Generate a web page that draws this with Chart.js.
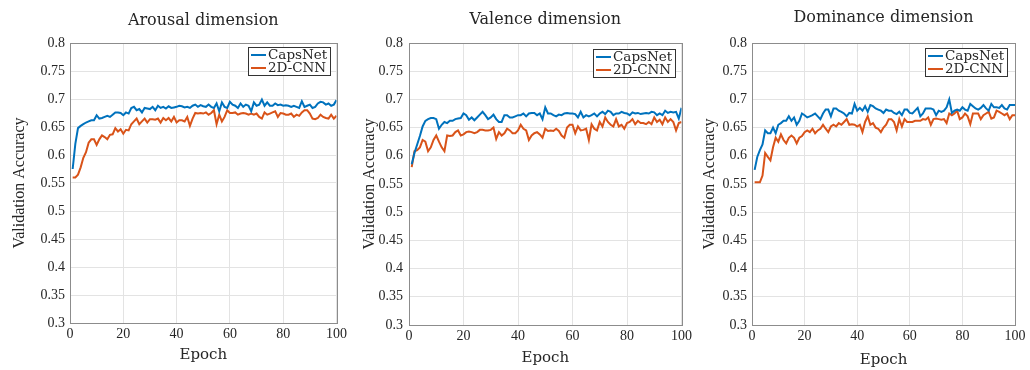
<!DOCTYPE html>
<html lang="en">
<head>
<meta charset="UTF-8">
<title>Validation accuracy: CapsNet vs 2D-CNN</title>
<script src="https://cdn.jsdelivr.net/npm/chart.js@4"></script>
<style>
  html, body { margin: 0; padding: 0; background: #fff; }
  .wrap { position: relative; width: 1030px; height: 370px; overflow: hidden; }
  .panel { position: absolute; top: 0; height: 370px; }
</style>
</head>
<body>
<div class="wrap">
  <div class="panel" style="left:0;width:350px"><canvas id="arousal"></canvas></div>
  <div class="panel" style="left:355px;width:340px"><canvas id="valence"></canvas></div>
  <div class="panel" style="left:700px;width:330px"><canvas id="dominance"></canvas></div>
</div>
<script>
// epochs 1..100 on the x axis
const epochs = Array.from({ length: 100 }, (_, i) => i + 1);
const xTicks = [0, 20, 40, 60, 80, 100];
const yTicks = [0.3, 0.35, 0.4, 0.45, 0.5, 0.55, 0.6, 0.65, 0.7, 0.75, 0.8];
const yTickLabels = ['0.3', '0.35', '0.4', '0.45', '0.5', '0.55', '0.6', '0.65', '0.7', '0.75', '0.8'];
const seriesNames = ['CapsNet', '2D-CNN'];

const arousalCaps = [
  0.575, 0.620, 0.648, 0.652, 0.655, 0.658, 0.660, 0.662, 0.662, 0.671,
  0.665, 0.666, 0.668, 0.670, 0.668, 0.672, 0.676, 0.676, 0.675, 0.671,
  0.676, 0.674, 0.684, 0.686, 0.680, 0.682, 0.676, 0.684, 0.683, 0.682,
  0.686, 0.680, 0.688, 0.684, 0.686, 0.683, 0.687, 0.684, 0.685, 0.686,
  0.688, 0.687, 0.685, 0.686, 0.684, 0.688, 0.690, 0.686, 0.689, 0.687,
  0.686, 0.690, 0.686, 0.684, 0.692, 0.678, 0.694, 0.686, 0.684, 0.695,
  0.690, 0.688, 0.684, 0.692, 0.686, 0.690, 0.688, 0.678, 0.694, 0.688,
  0.690, 0.699, 0.688, 0.694, 0.688, 0.688, 0.692, 0.689, 0.690, 0.688,
  0.689, 0.688, 0.686, 0.688, 0.686, 0.684, 0.696, 0.686, 0.688, 0.690,
  0.684, 0.686, 0.692, 0.695, 0.694, 0.690, 0.692, 0.688, 0.690, 0.698
];
const arousalCnn = [
  0.560, 0.560, 0.565, 0.578, 0.595, 0.605, 0.622, 0.628, 0.628, 0.618,
  0.628, 0.635, 0.632, 0.628, 0.636, 0.637, 0.648, 0.642, 0.646, 0.638,
  0.645, 0.644, 0.655, 0.660, 0.665, 0.655, 0.660, 0.665, 0.658, 0.664,
  0.664, 0.663, 0.665, 0.658, 0.666, 0.662, 0.666, 0.660, 0.668, 0.658,
  0.662, 0.662, 0.660, 0.668, 0.652, 0.665, 0.675, 0.674, 0.675, 0.674,
  0.676, 0.672, 0.675, 0.680, 0.655, 0.672, 0.660, 0.668, 0.680, 0.675,
  0.675, 0.676, 0.672, 0.674, 0.675, 0.674, 0.672, 0.674, 0.672, 0.674,
  0.668, 0.665, 0.676, 0.672, 0.674, 0.676, 0.678, 0.668, 0.675, 0.674,
  0.672, 0.672, 0.674, 0.668, 0.672, 0.670, 0.676, 0.680, 0.680, 0.674,
  0.665, 0.664, 0.666, 0.672, 0.668, 0.666, 0.665, 0.672, 0.665, 0.670
];
const valenceCaps = [
  0.585, 0.605, 0.620, 0.635, 0.652, 0.662, 0.665, 0.667, 0.667, 0.665,
  0.648, 0.655, 0.660, 0.658, 0.662, 0.662, 0.665, 0.666, 0.667, 0.675,
  0.672, 0.664, 0.668, 0.663, 0.668, 0.673, 0.678, 0.672, 0.665, 0.668,
  0.673, 0.665, 0.660, 0.660, 0.672, 0.672, 0.668, 0.668, 0.670, 0.672,
  0.672, 0.675, 0.670, 0.675, 0.676, 0.676, 0.672, 0.675, 0.665, 0.686,
  0.675, 0.675, 0.672, 0.670, 0.673, 0.672, 0.675, 0.676, 0.675, 0.675,
  0.674, 0.668, 0.678, 0.668, 0.672, 0.670, 0.672, 0.675, 0.670, 0.675,
  0.678, 0.674, 0.680, 0.678, 0.672, 0.675, 0.675, 0.678, 0.676, 0.675,
  0.672, 0.677, 0.675, 0.676, 0.674, 0.675, 0.676, 0.675, 0.678, 0.677,
  0.672, 0.675, 0.672, 0.680, 0.676, 0.678, 0.677, 0.678, 0.666, 0.685
];
const valenceCnn = [
  0.580, 0.608, 0.610, 0.615, 0.628, 0.625, 0.608, 0.615, 0.628, 0.636,
  0.625, 0.615, 0.608, 0.636, 0.635, 0.636, 0.642, 0.645, 0.636, 0.638,
  0.642, 0.643, 0.642, 0.640, 0.642, 0.646, 0.646, 0.645, 0.645, 0.646,
  0.650, 0.630, 0.642, 0.636, 0.640, 0.648, 0.645, 0.640, 0.640, 0.645,
  0.655, 0.648, 0.645, 0.628, 0.636, 0.640, 0.642, 0.638, 0.632, 0.648,
  0.644, 0.645, 0.644, 0.648, 0.644, 0.636, 0.632, 0.650, 0.655, 0.655,
  0.640, 0.652, 0.645, 0.646, 0.648, 0.628, 0.656, 0.648, 0.645, 0.660,
  0.652, 0.668, 0.660, 0.655, 0.652, 0.665, 0.652, 0.655, 0.648, 0.658,
  0.660, 0.665, 0.656, 0.662, 0.658, 0.658, 0.656, 0.660, 0.656, 0.668,
  0.660, 0.664, 0.656, 0.668, 0.660, 0.665, 0.660, 0.645, 0.658, 0.660
];
const dominanceCaps = [
  0.575, 0.598, 0.610, 0.620, 0.645, 0.640, 0.640, 0.650, 0.640, 0.655,
  0.658, 0.662, 0.662, 0.670, 0.662, 0.668, 0.655, 0.662, 0.675, 0.672,
  0.668, 0.670, 0.672, 0.675, 0.670, 0.665, 0.675, 0.682, 0.682, 0.670,
  0.684, 0.684, 0.680, 0.678, 0.675, 0.670, 0.676, 0.675, 0.692, 0.680,
  0.685, 0.680, 0.688, 0.678, 0.690, 0.688, 0.684, 0.682, 0.680, 0.676,
  0.682, 0.680, 0.680, 0.676, 0.674, 0.678, 0.672, 0.682, 0.682, 0.676,
  0.675, 0.680, 0.685, 0.670, 0.675, 0.684, 0.684, 0.684, 0.682, 0.672,
  0.680, 0.678, 0.680, 0.686, 0.700, 0.676, 0.680, 0.682, 0.680, 0.686,
  0.682, 0.680, 0.692, 0.688, 0.684, 0.682, 0.685, 0.690, 0.684, 0.680,
  0.692, 0.686, 0.686, 0.685, 0.690, 0.684, 0.682, 0.690, 0.690, 0.690
];
const dominanceCnn = [
  0.553, 0.553, 0.553, 0.565, 0.605, 0.598, 0.592, 0.615, 0.632, 0.625,
  0.638, 0.628, 0.622, 0.632, 0.636, 0.632, 0.622, 0.632, 0.635, 0.642,
  0.645, 0.642, 0.648, 0.640, 0.645, 0.648, 0.655, 0.648, 0.642, 0.652,
  0.655, 0.652, 0.658, 0.655, 0.660, 0.665, 0.655, 0.656, 0.655, 0.652,
  0.655, 0.642, 0.660, 0.670, 0.655, 0.658, 0.650, 0.648, 0.642, 0.650,
  0.655, 0.665, 0.665, 0.660, 0.645, 0.665, 0.652, 0.665, 0.660, 0.660,
  0.660, 0.662, 0.662, 0.662, 0.665, 0.664, 0.668, 0.655, 0.665, 0.666,
  0.665, 0.664, 0.665, 0.658, 0.675, 0.672, 0.675, 0.680, 0.665, 0.668,
  0.675, 0.670, 0.656, 0.675, 0.675, 0.675, 0.665, 0.672, 0.675, 0.678,
  0.666, 0.668, 0.680, 0.678, 0.675, 0.672, 0.675, 0.665, 0.672, 0.672
];

const BLUE = '#0072BD';
const ORANGE = '#D95319';
const TEXT = '#262626';

// frame, panel title and the boxed legend in the top-right corner
const matlabLook = {
  id: 'matlabLook',
  afterDatasetsDraw (chart, args, opts) {
    const { ctx, chartArea: a } = chart;
    ctx.save();
    ctx.strokeStyle = '#8c8c8c';
    ctx.lineWidth = 1;
    ctx.strokeRect(Math.round(a.left) + 0.5, Math.round(a.top) + 0.5,
      Math.round(a.right - a.left), Math.round(a.bottom - a.top));

    ctx.fillStyle = TEXT;
    ctx.font = opts.titleFont;
    ctx.textAlign = 'center';
    ctx.textBaseline = 'middle';
    ctx.fillText(opts.title, (a.left + a.right) / 2, opts.titleY);

    ctx.font = opts.legendFont;
    ctx.textAlign = 'left';
    const sets = chart.data.datasets;
    const textW = Math.max(...sets.map(d => ctx.measureText(d.label).width));
    const rowH = 13;
    const lineLen = 15;
    const w = Math.round(3 + lineLen + 2 + textW + 3);
    const h = rowH * sets.length + 2;
    const x = Math.round(a.right - opts.legendRight - w);
    const y = Math.round(a.top + opts.legendTop);
    ctx.fillStyle = '#fff';
    ctx.fillRect(x, y, w, h);
    ctx.strokeStyle = '#333';
    ctx.strokeRect(x + 0.5, y + 0.5, w, h);
    sets.forEach((d, i) => {
      const cy = y + 1.5 + rowH * (i + 0.5);
      ctx.strokeStyle = d.borderColor;
      ctx.lineWidth = 2;
      ctx.beginPath();
      ctx.moveTo(x + 3, cy);
      ctx.lineTo(x + 3 + lineLen, cy);
      ctx.stroke();
      ctx.fillStyle = TEXT;
      ctx.fillText(d.label, x + 3 + lineLen + 2, cy + 0.5);
    });
    ctx.restore();
  }
};

function makePanel (id, title, caps, cnn, lay) {
  return new Chart(document.getElementById(id), {
    type: 'line',
    data: {
      labels: epochs,
      datasets: [
        { label: seriesNames[0], data: caps, borderColor: BLUE, backgroundColor: BLUE, borderWidth: 2, pointRadius: 0, tension: 0 },
        { label: seriesNames[1], data: cnn, borderColor: ORANGE, backgroundColor: ORANGE, borderWidth: 2, pointRadius: 0, tension: 0 }
      ]
    },
    options: {
      responsive: true,
      maintainAspectRatio: false,
      animation: false,
      events: [],
      layout: { padding: { top: 43, left: 0, right: lay.padRight, bottom: lay.padBottom } },
      plugins: {
        legend: { display: false },
        tooltip: { enabled: false },
        matlabLook: {
          title: title,
          titleY: lay.titleY,
          titleFont: '16px "DejaVu Serif"',
          legendFont: '13.5px "DejaVu Serif"',
          legendRight: lay.legendRight,
          legendTop: lay.legendTop
        }
      },
      scales: {
        x: {
          type: 'linear',
          min: 0,
          max: 100,
          afterBuildTicks: s => { s.ticks = xTicks.map(v => ({ value: v })); },
          afterFit: s => { s.height = lay.xHeight; },
          grid: { color: '#e3e3e3', drawTicks: false },
          border: { display: false },
          ticks: { color: TEXT, padding: 3, maxRotation: 0, font: { family: 'Liberation Serif', size: 14 } },
          title: { display: true, text: 'Epoch', color: TEXT, padding: { top: 0, bottom: lay.xTitlePad }, font: { family: 'DejaVu Serif', size: 15 } }
        },
        y: {
          min: 0.3,
          max: 0.8,
          afterBuildTicks: s => { s.ticks = yTicks.map(v => ({ value: v })); },
          afterFit: s => { s.width = lay.yWidth; },
          grid: { color: '#e3e3e3', drawTicks: false },
          border: { display: false },
          ticks: {
            color: TEXT,
            padding: lay.yTickPad,
            font: { family: 'Liberation Serif', size: 14 },
            callback: v => yTickLabels[yTicks.findIndex(t => Math.abs(t - v) < 1e-6)]
          },
          title: { display: true, text: 'Validation Accuracy', color: TEXT, padding: { top: lay.yTitlePad, bottom: 0 }, font: { family: 'Liberation Serif', size: 16 } }
        }
      }
    },
    plugins: [matlabLook]
  });
}

makePanel('arousal', 'Arousal dimension', arousalCaps, arousalCnn,
  { padRight: 7, padBottom: 5, xHeight: 42, xTitlePad: 1, yWidth: 70, yTickPad: 5, yTitlePad: 10, titleY: 21, legendRight: 7, legendTop: 4 });
makePanel('valence', 'Valence dimension', valenceCaps, valenceCnn,
  { padRight: 11, padBottom: 3, xHeight: 42, xTitlePad: 0, yWidth: 54, yTickPad: 6, yTitlePad: 5, titleY: 20, legendRight: 7, legendTop: 6 });
makePanel('dominance', 'Dominance dimension', dominanceCaps, dominanceCnn,
  { padRight: 15, padBottom: 1, xHeight: 44, xTitlePad: 0, yWidth: 52, yTickPad: 5, yTitlePad: 0, titleY: 18, legendRight: 8, legendTop: 5 });
</script>
</body>
</html>
